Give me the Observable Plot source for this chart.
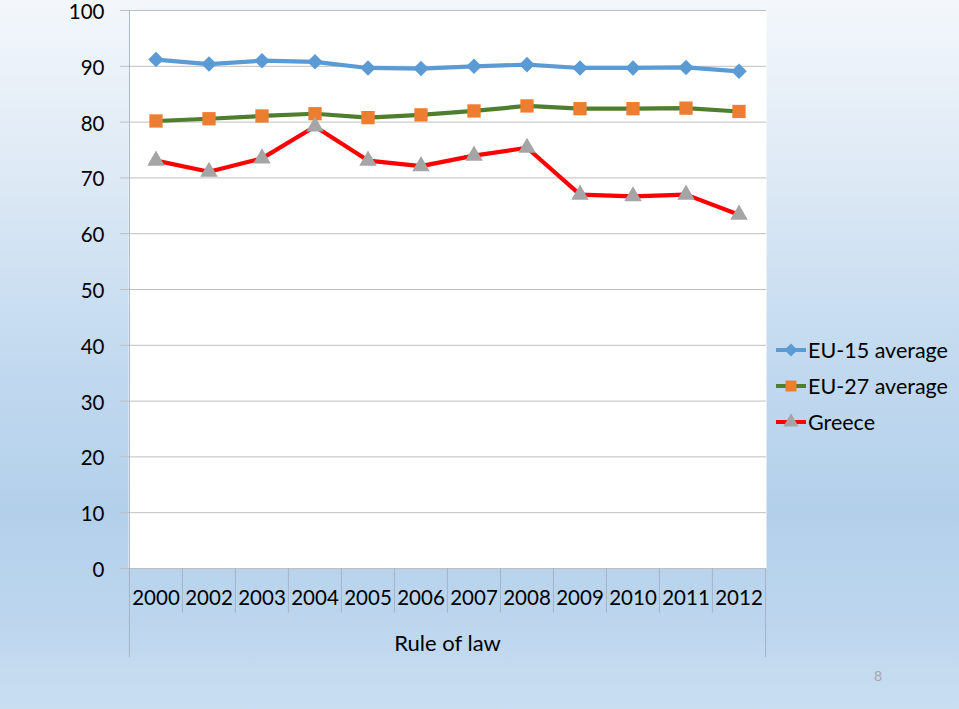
<!DOCTYPE html>
<html>
<head>
<meta charset="utf-8">
<script src="https://cdn.jsdelivr.net/npm/d3@7"></script>
<script src="https://cdn.jsdelivr.net/npm/@observablehq/plot@0.6"></script>
<style>
  html, body { margin: 0; padding: 0; }
  body { width: 959px; height: 709px; overflow: hidden; font-family: Lato, "Open Sans", sans-serif; }
  #wrap { position: relative; width: 959px; height: 709px;
    background: linear-gradient(to bottom, #f3f7fb 0%, #dde9f5 25%, #c4dbf0 48%, #b3d0eb 72%, #bdd6ee 88%, #c9def1 100%); }
  #chart svg { display: block; background: transparent !important; }
  #legend { position: absolute; left: 775px; top: 332px; font-size: 21.5px; color: #000; }
  #legend .row { display: flex; align-items: center; height: 36px; }
  #legend svg { margin-right: 1px; }
  #page { position: absolute; left: 874px; top: 667px; font-size: 14px; color: #a6a6a6; }
</style>
</head>
<body>
<div id="wrap">
  <div id="chart"></div>
  <div id="legend"></div>
  <div id="page">8</div>
</div>
<script>
const years = ["2000","2002","2003","2004","2005","2006","2007","2008","2009","2010","2011","2012"];
const eu15 = [91.2, 90.4, 91.0, 90.8, 89.7, 89.6, 90.0, 90.3, 89.7, 89.7, 89.8, 89.1];
const eu27 = [80.2, 80.6, 81.1, 81.5, 80.8, 81.3, 82.0, 82.9, 82.4, 82.4, 82.5, 81.9];
const greece = [73.1, 71.1, 73.5, 79.2, 73.1, 72.1, 74.0, 75.4, 67.0, 66.7, 67.0, 63.4];
const yTicks = [0,10,20,30,40,50,60,70,80,90,100];
const seriesNames = ["EU-15 average", "EU-27 average", "Greece"];
const xLabel = "Rule of law";

const styles = [
  {line: "#5b9bd5", fill: "#5b9bd5", symbol: "diamond2", r: 7},
  {line: "#4f7f2e", fill: "#ed7d31", symbol: "square", r: 7.5},
  {line: "#ff0000", fill: "#a5a5a5", symbol: "triangle", r: 6.5}
];
const seriesData = [eu15, eu27, greece].map((vals, i) =>
  years.map((y, j) => ({year: y, value: vals[j], series: seriesNames[i]})));

const W = 959, H = 709, mL = 128, mR = 193, mT = 10, mB = 141;
const bw = (W - mL - mR) / years.length;

const marks = [
  Plot.frame({fill: "white", stroke: null}),
  Plot.ruleY(yTicks, {stroke: "#bfbfbf", strokeWidth: 1}),
  Plot.ruleX([years[0]], {dx: -bw / 2, y1: -16, y2: 100, stroke: "#a6b4c4", strokeWidth: 1}),
  Plot.ruleX([years[years.length - 1]], {dx: bw / 2, y1: -16, y2: 0, stroke: "#a6b4c4", strokeWidth: 1}),
  Plot.ruleX(years.slice(1), {dx: -bw / 2, y1: -8, y2: 0, stroke: "#a6b4c4", strokeWidth: 1}),
  Plot.axisY({ticks: yTicks, tickSize: 8, text: null, stroke: "#bfbfbf", label: null}),
  Plot.axisY({ticks: yTicks, tickSize: 0, tickPadding: 24, fontSize: 20.5, dy: 2, color: "#000", label: null}),
  Plot.axisX({tickSize: 0, tickPadding: 22, fontSize: 20.5, label: null, color: "#000"}),
  Plot.text([xLabel], {frameAnchor: "bottom", dy: 82, fontSize: 22, fill: "#000"})
];
seriesData.forEach((d, i) => {
  const s = styles[i];
  marks.push(Plot.line(d, {x: "year", y: "value", stroke: s.line, strokeWidth: 4.2}));
  marks.push(Plot.dot(d, {x: "year", y: "value", symbol: () => s.symbol, fill: s.fill, stroke: null, r: s.r}));
});

const chart = Plot.plot({
  width: W, height: H,
  marginLeft: mL, marginRight: mR, marginTop: mT, marginBottom: mB,
  style: {background: "transparent", fontFamily: "Lato, 'Open Sans', sans-serif", overflow: "visible"},
  x: {type: "band", domain: years, padding: 0, axis: null},
  y: {domain: [0, 100], axis: null},
  symbol: {type: "identity"},
  marks
});
document.getElementById("chart").appendChild(chart);

// legend
const legend = d3.select("#legend");
seriesNames.forEach((name, i) => {
  const s = styles[i];
  const row = legend.append("div").attr("class", "row");
  const svg = row.append("svg").attr("width", 32).attr("height", 20);
  svg.append("line").attr("x1", 1).attr("x2", 31).attr("y1", 10).attr("y2", 10)
    .attr("stroke", s.line).attr("stroke-width", 4);
  const sym = d3.symbol().type(
    s.symbol === "diamond2" ? d3.symbolDiamond2 : s.symbol === "square" ? d3.symbolSquare : d3.symbolTriangle
  ).size(s.symbol === "diamond2" ? 110 : s.symbol === "square" ? 120 : 100);
  svg.append("path").attr("d", sym()).attr("transform", "translate(16,10)").attr("fill", s.fill);
  row.append("span").text(name);
});
</script>
</body>
</html>
